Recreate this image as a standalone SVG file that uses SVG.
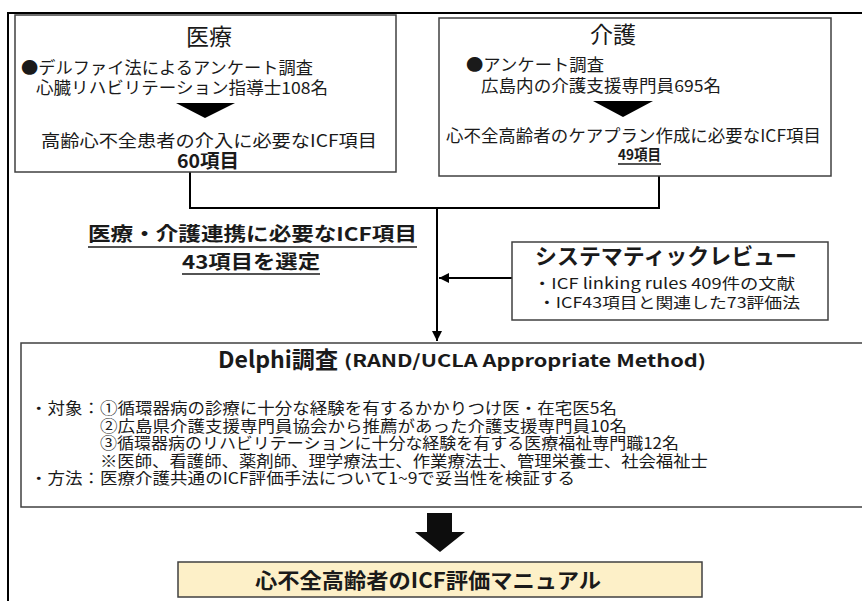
<svg xmlns="http://www.w3.org/2000/svg" width="862" height="601" viewBox="0 0 862 601">
<defs>
<style>
text{font-family:"Noto Sans CJK JP","Noto Sans",sans-serif;fill:#1a1a1a}
.t{font-size:23px}
.b{font-size:16.5px}
.m{font-size:17px}
.d{font-size:15.5px}
.bold{font-weight:bold}
.box{fill:#fff;stroke:#404040;stroke-width:1.5}
.ln{stroke:#000;stroke-width:2;fill:none}
.ul{stroke:#1a1a1a;stroke-width:1.5}
</style>
<marker id="ah" viewBox="0 0 10 10" refX="10" refY="5" markerWidth="5" markerHeight="5" orient="auto" markerUnits="strokeWidth">
<path d="M0,0 L10,5 L0,10 z" fill="#000"/>
</marker>
</defs>
<rect width="862" height="601" fill="#fff"/>
<g id="frame">
<path class="ln" d="M862,13 H8 V601"/>
</g>
<g id="connectors">
<path class="ln" d="M190,172 V208 H659 V176"/>
<path class="ln" d="M437,208 V341" marker-end="url(#ah)"/>
<path class="ln" d="M512,278 H439" marker-end="url(#ah)"/>
</g>
<g id="iryo">
<rect class="box" x="15" y="15" width="381" height="157"/>
<text class="t" x="209" y="45" text-anchor="middle">医療</text>
<text class="b" x="21" y="74" textLength="292" lengthAdjust="spacingAndGlyphs">●デルファイ法によるアンケート調査</text>
<text class="b" x="36" y="94" textLength="292" lengthAdjust="spacingAndGlyphs">心臓リハビリテーション指導士108名</text>
<path d="M176,103 H235 L205,118 z" fill="#000"/>
<text class="m" x="41" y="147" textLength="336" lengthAdjust="spacingAndGlyphs">高齢心不全患者の介入に必要なICF項目</text>
<text class="bold" x="177" y="168" font-size="19" textLength="62" lengthAdjust="spacingAndGlyphs">60項目</text>
</g>
<g id="kaigo">
<rect class="box" x="439" y="18" width="392" height="158"/>
<text class="t" x="613" y="43" text-anchor="middle">介護</text>
<text class="b" x="466" y="71" textLength="138" lengthAdjust="spacingAndGlyphs">●アンケート調査</text>
<text class="b" x="481" y="92" textLength="240" lengthAdjust="spacingAndGlyphs">広島内の介護支援専門員695名</text>
<path d="M593,101 H653 L623,117 z" fill="#000"/>
<text class="m" x="446" y="142" textLength="375" lengthAdjust="spacingAndGlyphs">心不全高齢者のケアプラン作成に必要なICF項目</text>
<text class="bold" x="618" y="160" font-size="14.5" textLength="43" lengthAdjust="spacingAndGlyphs">49項目</text>
<line class="ul" x1="618" y1="164" x2="661" y2="164"/>
</g>
<g id="selected">
<text class="bold" x="88" y="241" font-size="19" textLength="329" lengthAdjust="spacingAndGlyphs">医療・介護連携に必要なICF項目</text>
<line class="ul" x1="88" y1="247" x2="417" y2="247"/>
<text class="bold" x="182" y="269" font-size="19" textLength="138" lengthAdjust="spacingAndGlyphs">43項目を選定</text>
<line class="ul" x1="182" y1="274" x2="320" y2="274"/>
</g>
<g id="review">
<rect class="box" x="512" y="242" width="316" height="78"/>
<text class="bold" x="535" y="264" font-size="22" textLength="262" lengthAdjust="spacingAndGlyphs">システマティックレビュー</text>
<text x="533" y="289" font-size="15" textLength="262" lengthAdjust="spacingAndGlyphs">・ICF linking rules 409件の文献</text>
<text x="538" y="307.5" font-size="15" textLength="262" lengthAdjust="spacingAndGlyphs">・ICF43項目と関連した73評価法</text>
</g>
<g id="delphi">
<rect class="box" x="21" y="343" width="860" height="164"/>
<text class="bold" x="218" y="368" font-size="23" textLength="120" lengthAdjust="spacingAndGlyphs">Delphi調査</text>
<text class="bold" x="344" y="367" font-size="17" textLength="362" lengthAdjust="spacingAndGlyphs">(RAND/UCLA Appropriate Method)</text>
<text class="d" x="30" y="414" textLength="587" lengthAdjust="spacingAndGlyphs">・対象：①循環器病の診療に十分な経験を有するかかりつけ医・在宅医5名</text>
<text class="d" x="100" y="431.5" textLength="527" lengthAdjust="spacingAndGlyphs">②広島県介護支援専門員協会から推薦があった介護支援専門員10名</text>
<text class="d" x="100" y="449" textLength="579" lengthAdjust="spacingAndGlyphs">③循環器病のリハビリテーションに十分な経験を有する医療福祉専門職12名</text>
<text class="d" x="100" y="466.5" textLength="608" lengthAdjust="spacingAndGlyphs">※医師、看護師、薬剤師、理学療法士、作業療法士、管理栄養士、社会福祉士</text>
<text class="d" x="30" y="484" textLength="545" lengthAdjust="spacingAndGlyphs">・方法：医療介護共通のICF評価手法について1~9で妥当性を検証する</text>
</g>
<g id="bigarrow">
<path d="M427,513 H452 V532 H465 L440,552 L415,532 H427 z" fill="#0d0d0d"/>
</g>
<g id="manual">
<rect x="178" y="562" width="524" height="35" fill="#fdf0c8" stroke="#404040" stroke-width="1.5"/>
<text class="bold" x="428" y="588" text-anchor="middle" font-size="21" textLength="346" lengthAdjust="spacingAndGlyphs">心不全高齢者のICF評価マニュアル</text>
</g>
</svg>
